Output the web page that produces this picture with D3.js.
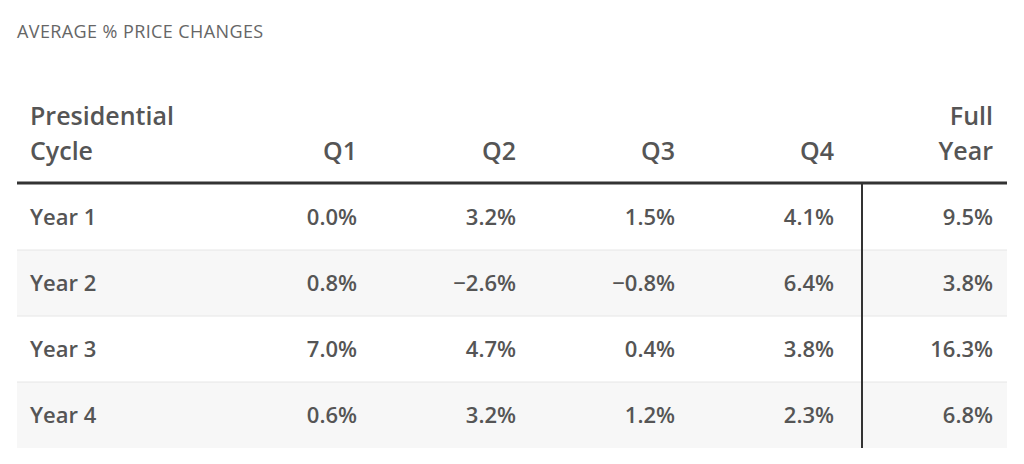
<!DOCTYPE html>
<html><head><meta charset="utf-8">
<script src="https://cdn.jsdelivr.net/npm/d3@7"></script>
<style>body{margin:0;background:#fff;font-family:"Open Sans",sans-serif}</style>
</head><body>
<svg id="chart" width="1024" height="464"></svg>
<script>
const rowLabels = ["Year 1", "Year 2", "Year 3", "Year 4"];
const columns = ["Q1", "Q2", "Q3", "Q4", "Full Year"];
const values = [
  [0.0, 3.2, 1.5, 4.1, 9.5],
  [0.8, -2.6, -0.8, 6.4, 3.8],
  [7.0, 4.7, 0.4, 3.8, 16.3],
  [0.6, 3.2, 1.2, 2.3, 6.8]
];

const svg = d3.select("#chart");
const txt = "#555";

svg.append("text").attr("x", 17).attr("y", 38)
  .attr("font-size", 18).attr("letter-spacing", 0.4).attr("fill", "#666").text("AVERAGE % PRICE CHANGES");

const y = d3.scaleBand().domain(rowLabels).range([184, 448]);
const x = d3.scaleLinear().domain([0, 4]).range([357, 993]);
const fmt = v => (v < 0 ? "\u2212" : "") + Math.abs(v).toFixed(1) + "%";

// row backgrounds
svg.selectAll("rect.row").data(rowLabels).join("rect")
  .attr("x", 17).attr("width", 990)
  .attr("y", d => y(d)).attr("height", y.bandwidth())
  .attr("fill", (d, i) => i % 2 ? "#f7f7f7" : "#fff");
svg.selectAll("line.sep").data(rowLabels.slice(1)).join("line")
  .attr("x1", 17).attr("x2", 1007)
  .attr("y1", d => y(d)).attr("y2", d => y(d))
  .attr("stroke", "#e6e6e6");

// header
const head = svg.append("g").attr("font-size", 25).attr("font-weight", 600).attr("fill", txt);
head.append("text").attr("x", 30).attr("y", 125).text("Presidential");
head.append("text").attr("x", 30).attr("y", 160).text("Cycle");
columns.forEach((c, i) => {
  const parts = c.split(" ");
  parts.forEach((p, j) => {
    head.append("text").attr("x", x(i)).attr("y", 160 - (parts.length - 1 - j) * 35)
      .attr("text-anchor", "end").text(p);
  });
});

svg.append("line").attr("x1", 17).attr("x2", 1007).attr("y1", 183).attr("y2", 183)
  .attr("stroke", "#333").attr("stroke-width", 3);
svg.append("line").attr("x1", 862).attr("x2", 862).attr("y1", 183).attr("y2", 448)
  .attr("stroke", "#333").attr("stroke-width", 2);

// body
const rows = svg.selectAll("g.r").data(rowLabels).join("g")
  .attr("transform", d => `translate(0,${y(d) + y.bandwidth() / 2 + 8})`)
  .attr("font-size", 22).attr("font-weight", 600).attr("fill", txt);
rows.append("text").attr("x", 30).text(d => d);
rows.selectAll("text.v").data((d, i) => values[i]).join("text")
  .attr("class", "v").attr("x", (d, i) => x(i)).attr("text-anchor", "end").text(fmt);
</script>
</body></html>
